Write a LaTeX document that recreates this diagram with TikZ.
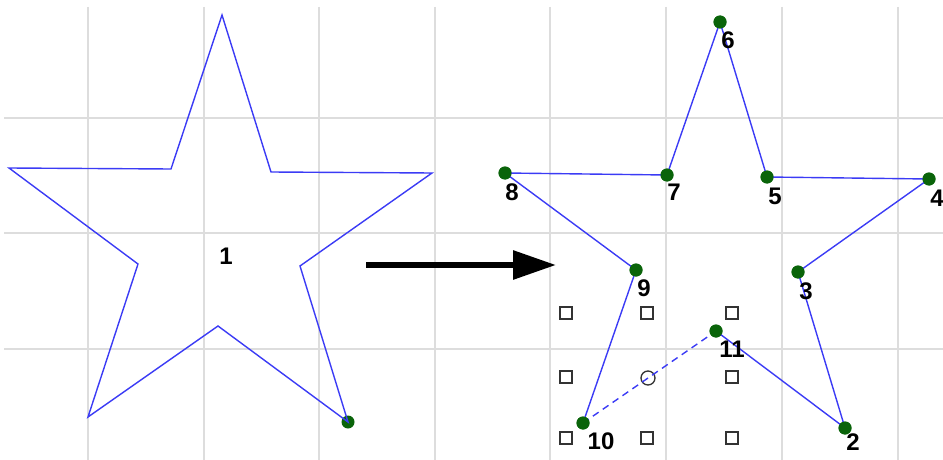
\documentclass[tikz,border=0pt]{standalone}
\usepackage{fontspec}
\setmainfont{Liberation Sans}
\usepackage{xcolor}
\usetikzlibrary{arrows.meta, positioning}
\definecolor{gridgray}{HTML}{DDDDDD}
\definecolor{starblue}{HTML}{3B3BF5}
\definecolor{dotgreen}{HTML}{0A640A}

\begin{document}
\begin{tikzpicture}[
    x=1pt, y=-1pt,
    grid/.style={gridgray, line width=1.6pt},
    edge/.style={starblue, line width=1.4pt, line join=miter},
    vtx/.style={circle, fill=dotgreen, inner sep=0pt, minimum size=13pt},
    num/.style={font=\fontsize{24}{24}\selectfont\bfseries, inner sep=0pt},
    handle/.style={draw=black!80, line width=1.3pt, inner sep=0pt, minimum size=12pt},
    move/.style={-{Triangle[length=43pt, width=28pt]}, line width=6pt},
]
\useasboundingbox (0,0) rectangle (943,460);

% Grid
\foreach \gx in {88,204,319,435,550,666,782,898}
    \draw[grid] (\gx,7) -- (\gx,460);
\foreach \gy in {118,233,349}
    \draw[grid] (4,\gy) -- (943,\gy);

% Original star
\coordinate (a1) at (222,15);
\coordinate (a2) at (271,172);
\coordinate (a3) at (432,173);
\coordinate (a4) at (300,266);
\coordinate (a6) at (218,326);
\coordinate (a7) at (88,417);
\coordinate (a8) at (138,264);
\coordinate (a9) at (9,168);
\coordinate (a10) at (171,169);
\node[vtx] (a5) at (348,422) {};
\draw[edge] (a1) -- (a2) -- (a3) -- (a4) -- (a5.center) -- (a6) -- (a7) -- (a8) -- (a9) -- (a10) -- cycle;
\node[num] (shape) at (226,256) {1};

% Arrow
\coordinate (from) at (366,265);
\coordinate (to) at (556,265);
\draw[move] (from) -- (to);

% Handles
\foreach \hx/\hy [count=\i] in {566/313,647/313,732/313,566/377,732/377,566/438,647/438,732/438}
    \node[handle] (h\i) at (\hx,\hy) {};
\node[handle, circle, minimum size=14pt] (hc) at (648,378) {};

% Edited star
\node[vtx] (p2) at (845,428) {};
\node[vtx] (p3) at (798,272) {};
\node[vtx] (p4) at (929,179) {};
\node[vtx] (p5) at (767,177) {};
\node[vtx] (p6) at (720,22) {};
\node[vtx] (p7) at (667,175) {};
\node[vtx] (p8) at (505,173) {};
\node[vtx] (p9) at (636,270) {};
\node[vtx] (p10) at (583,423) {};
\node[vtx] (p11) at (716,331) {};
\draw[edge] (p6.center) -- (p5.center) -- (p4.center) -- (p3.center) -- (p2.center) -- (p11.center);
\draw[edge] (p10.center) -- (p9.center) -- (p8.center) -- (p7.center) -- (p6.center);
\draw[edge, dashed, dash pattern=on 7pt off 5pt] (p10.center) -- (p11.center);
\foreach \p in {2,...,11}
    \fill[dotgreen] (p\p) circle (6.5);

% Labels
\node[num] at (853,442) {2};
\node[num] at (806,291) {3};
\node[num] at (937,198) {4};
\node[num] at (775,196) {5};
\node[num] at (728,40) {6};
\node[num] at (674,192) {7};
\node[num] at (512,192) {8};
\node[num] at (644,288) {9};
\node[num] at (601,441) {10};
\node[num] at (732,349) {11};
\end{tikzpicture}
\end{document}
